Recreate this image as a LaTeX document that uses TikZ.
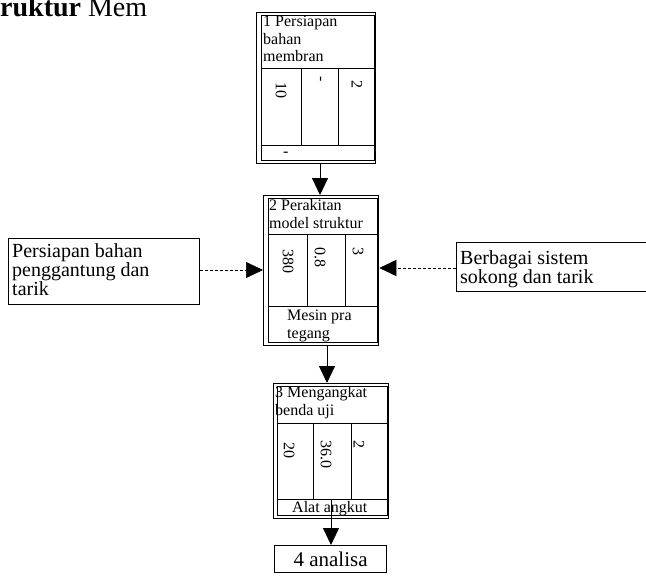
\documentclass[tikz,border=0pt]{standalone}
\usepackage{fontspec}
\setmainfont{Liberation Serif}
\usetikzlibrary{arrows.meta}
\begin{document}
\begin{tikzpicture}[x=1pt,y=-1pt,
  outerline/.style={draw=black,line width=1.3pt},
  innerline/.style={draw=black,line width=0.6pt},
  hdr/.style={anchor=base west,inner sep=0pt,align=left,font=\fontsize{16}{17.5}\selectfont},
  num/.style={anchor=west,rotate=-90,inner sep=0pt,font=\fontsize{16}{16}\selectfont},
  side/.style={anchor=base west,inner sep=0pt,align=left,font=\fontsize{20}{19}\selectfont},
  bigarrow/.style={line width=0.9pt,-{Triangle[length=17pt,width=16pt]}},
  dasharrow/.style={line width=0.6pt,densely dashed,-{Triangle[length=17pt,width=16pt,sep=0pt]}}]
\useasboundingbox (0,0) rectangle (646,586);
\fill[white] (0,0) rectangle (646,586);

% partial title at the top edge
\node[anchor=base west,inner sep=0pt,font=\fontsize{28}{28}\selectfont] (title) at (0,17) {\llap{\bfseries St}\textbf{ruktur} Mem};

% ---- box 1
\node[outerline,rectangle,minimum width=119pt,minimum height=151pt,anchor=north west,inner sep=0pt] (b1) at (256,12) {};
\draw[innerline] (261,15) rectangle (374,160);
\draw[innerline] (261,68) -- (375,68) (261,145) -- (375,145)
  (301,68) -- (301,145) (338,68) -- (338,145);
\node[hdr] (b1h) at (263,62) {1 Persiapan\\bahan\\membran};
\node[num] (b1n1) at (281,82) {10};
\node[num] (b1n2) at (319,76) {-};
\node[num] (b1n3) at (357,80) {2};
\node[hdr] (b1f) at (283,157) {-};

% ---- box 2
\node[outerline,rectangle,minimum width=115pt,minimum height=150pt,anchor=north west,inner sep=0pt] (b2) at (263,195) {};
\draw[innerline] (268,198) rectangle (377,342);
\draw[innerline] (268,234) -- (378,234) (268,306) -- (378,306)
  (307,234) -- (307,306) (345,234) -- (345,306);
\node[hdr] (b2h) at (269,228) {2 Perakitan\\model struktur};
\node[num] (b2n1) at (288,249) {380};
\node[num] (b2n2) at (320,247) {0.8};
\node[num] (b2n3) at (358,247) {3};
\node[hdr] (b2f) at (287,338) {Mesin pra\\tegang};

% ---- box 3
\node[outerline,rectangle,minimum width=115pt,minimum height=135pt,anchor=north west,inner sep=0pt] (b3) at (273,383) {};
\draw[innerline] (277,386) rectangle (387,515);
\draw[innerline] (277,423) -- (388,423) (277,499) -- (388,499)
  (313,423) -- (313,499) (351,423) -- (351,499);
\node[hdr] (b3h) at (275,415) {3 Mengangkat\\benda uji};
\node[num] (b3n1) at (289,442) {20};
\node[num] (b3n2) at (326,440) {36.0};
\node[num] (b3n3) at (359,440) {2};
\node[hdr] (b3f) at (292,512) {Alat angkut};

% ---- box 4
\node[draw=black,line width=1.2pt,rectangle,minimum width=112pt,minimum height=27pt,anchor=north west,inner sep=0pt,font=\fontsize{21}{21}\selectfont] (b4) at (274,545) {4 analisa};

% ---- side boxes
\node[draw=black,line width=1.1pt,rectangle,minimum width=191pt,minimum height=66pt,anchor=north west,inner sep=0pt] (lb) at (8,238) {};
\node[side] (lbt) at (12,295) {Persiapan bahan\\penggantung dan\\tarik};
\node[draw=black,line width=1.1pt,rectangle,minimum width=190pt,minimum height=49pt,anchor=north west,inner sep=0pt] (rb) at (456,242) {};
\node[side] (rbt) at (460,283) {Berbagai sistem\\sokong dan tarik};

% ---- connectors
\coordinate (b3start) at (331,499);
\draw[bigarrow] (320,163) -- (b2.north -| 320,0);
\draw[bigarrow] (327,345) -- (b3.north -| 327,0);
\draw[bigarrow] (b3start) -- (b4.north -| b3start);
\draw[dasharrow] (lb.east |- 0,270) -- (b2.west |- 0,270);
\draw[dasharrow] (rb.west |- 0,268) -- (b2.east |- 0,268);
\end{tikzpicture}
\end{document}
